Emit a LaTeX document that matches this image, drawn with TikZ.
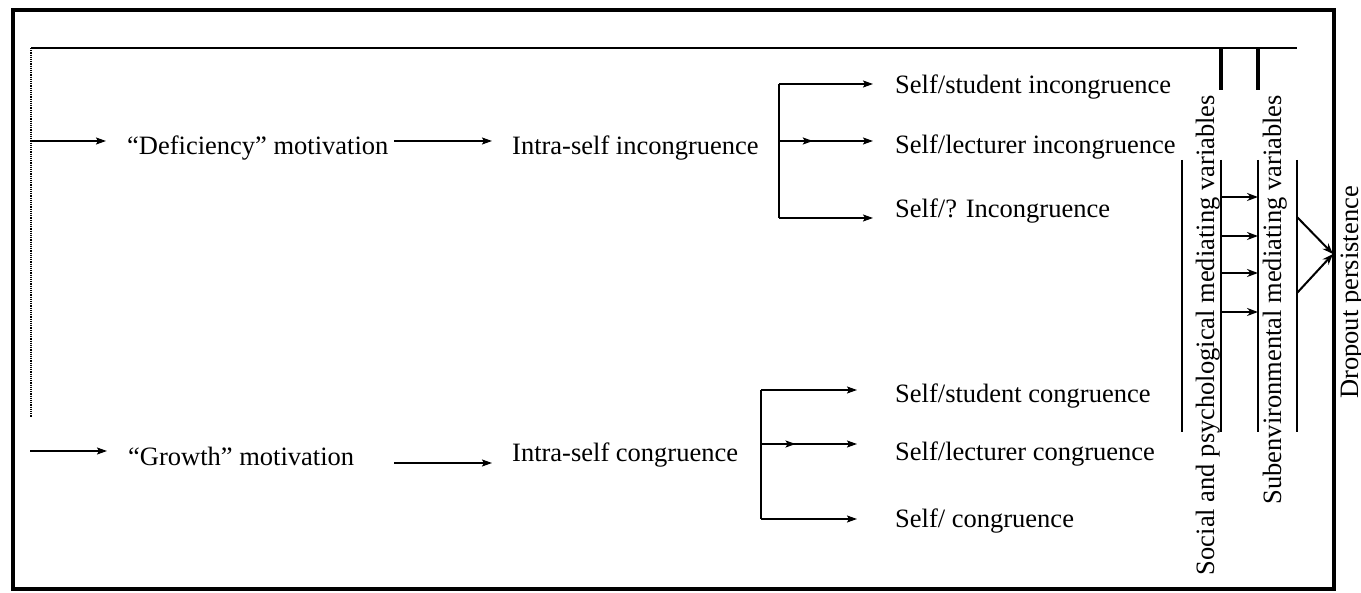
\documentclass[tikz,border=0pt]{standalone}
\usepackage{fontspec}
\setmainfont{Liberation Serif}
\usetikzlibrary{arrows.meta,decorations.markings}
\begin{document}
\begin{tikzpicture}[x=1pt,y=-1pt,
  lbl/.style={anchor=base west,inner sep=0pt,font=\fontsize{26.5}{30}\selectfont},
  vlbl/.style={rotate=90,anchor=base east,inner sep=0pt,font=\fontsize{26.5}{30}\selectfont},
  ln/.style={line width=1.6pt},
  arr/.style={ln,-{Stealth[length=10pt,width=7pt,inset=2pt]}},
  farr/.style={line width=2pt,-{Stealth[length=11pt,width=8pt]}},
  midarr/.style={ln,-{Stealth[length=10pt,width=7pt,inset=2pt]},
    postaction={decorate},
    decoration={markings,mark=at position 0.36 with {\arrow{Stealth[length=10pt,width=7pt,inset=2pt]}}}},
  bar/.style={line width=4pt},
  vline/.style={line width=2pt}
]
\useasboundingbox (0,0) rectangle (1361,593);
% frames
\draw[line width=3.5pt] (13,10) rectangle (1334,589);
\coordinate (itl) at (31,48);
\coordinate (itr) at (1297,48);
\coordinate (ilb) at (31,417);
\draw[line width=1.2pt] (itl) -- (itr);
\draw[line width=1.2pt,densely dotted] (itl) -- (ilb);

% upper row
\node[lbl] (def) at (127,155) {“Deficiency” motivation};
\node[lbl] (intra1) at (512,155) {Intra-self incongruence};
\node[lbl] (s1) at (895,94) {Self/student incongruence};
\node[lbl] (l1) at (895,154) {Self/lecturer incongruence};
\node[lbl] (q1) at (895,218) {Self/? Incongruence};
\coordinate (in1) at (31,141);
\coordinate (in1e) at (106,141);
\draw[arr] (in1) -- (in1e);
\coordinate (d1s) at (394,141);
\coordinate (d1e) at (492,141);
\draw[arr] (d1s) -- (d1e);
\coordinate (b1t) at (779,84);
\coordinate (b1m) at (779,141);
\coordinate (b1b) at (779,218);
\draw[ln] (b1t) -- (b1b);
\draw[arr] (b1t) -- ([xshift=-22pt]s1.west |- b1t);
\draw[midarr] (b1m) -- ([xshift=-22pt]l1.west |- b1m);
\draw[arr] (b1b) -- ([xshift=-22pt]q1.west |- b1b);

% lower row
\node[lbl] (gro) at (128,466) {“Growth” motivation};
\node[lbl] (intra2) at (512,462) {Intra-self congruence};
\node[lbl] (s2) at (895,403) {Self/student congruence};
\node[lbl] (l2) at (895,461) {Self/lecturer congruence};
\node[lbl] (q2) at (895,527) {Self/ congruence};
\coordinate (in2) at (30,451);
\coordinate (in2e) at (107,451);
\draw[arr] (in2) -- (in2e);
\coordinate (d2s) at (394,463);
\coordinate (d2e) at (492,463);
\draw[arr] (d2s) -- (d2e);
\coordinate (b2t) at (761,390);
\coordinate (b2m) at (761,444);
\coordinate (b2b) at (761,519);
\draw[ln] (b2t) -- (b2b);
\draw[arr] (b2t) -- ([xshift=-38pt]s2.west |- b2t);
\draw[midarr] (b2m) -- ([xshift=-38pt]l2.west |- b2m);
\draw[arr] (b2b) -- ([xshift=-38pt]q2.west |- b2b);

% right part
\coordinate (v1t) at (1182,160); \coordinate (v1b) at (1182,432);
\coordinate (v2t) at (1221,160); \coordinate (v2b) at (1221,432);
\coordinate (v3t) at (1258,160); \coordinate (v3b) at (1258,432);
\coordinate (v4t) at (1297,160); \coordinate (v4b) at (1297,432);
\draw[vline] (v1t) -- (v1b);
\draw[vline] (v2t) -- (v2b);
\draw[vline] (v3t) -- (v3b);
\draw[vline] (v4t) -- (v4b);
\coordinate (bar1t) at (1221,48); \coordinate (bar1b) at (1221,90);
\coordinate (bar2t) at (1258,48); \coordinate (bar2b) at (1258,90);
\draw[bar] (bar1t) -- (bar1b);
\draw[bar] (bar2t) -- (bar2b);
\foreach \y/\n in {197/a,236/b,273/c,312/d}{
  \coordinate (m\n s) at (1221,\y);
  \coordinate (m\n e) at (1258,\y);
  \draw[farr] (m\n s) -- (m\n e);
}
\coordinate (c1) at (1297,217);
\coordinate (c2) at (1297,293);
\coordinate (ce) at (1333,254);
\draw[farr] (c1) -- (ce);
\draw[farr] (c2) -- (ce);

\node[vlbl] (spv) at (1214,95) {Social and psychological mediating variables};
\node[vlbl] (sev) at (1281,95) {Subenvironmental mediating variables};
\node[vlbl] (dp) at (1358,186) {Dropout persistence};
\end{tikzpicture}
\end{document}
